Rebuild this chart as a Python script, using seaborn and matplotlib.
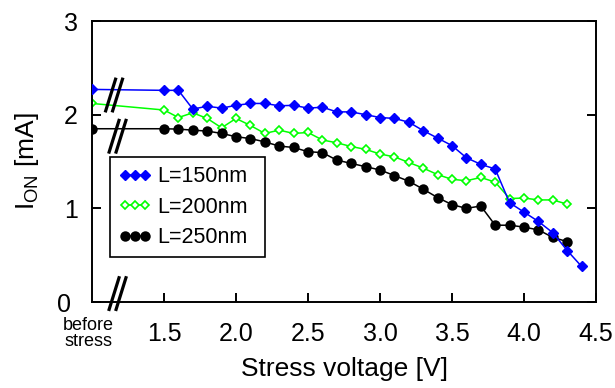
import matplotlib
matplotlib.use("Agg")
import matplotlib.pyplot as plt
import matplotlib.transforms as mtransforms
from matplotlib.lines import Line2D
import seaborn as sns
import pandas as pd

# Stress voltage [V]; 1.0 stands for the "before stress" reading
volt_150 = [1.0, 1.5, 1.6, 1.7, 1.8, 1.9, 2.0, 2.1, 2.2, 2.3, 2.4, 2.5, 2.6, 2.7, 2.8,
            2.9, 3.0, 3.1, 3.2, 3.3, 3.4, 3.5, 3.6, 3.7, 3.8, 3.9, 4.0, 4.1, 4.2, 4.3, 4.4]
volt_200 = [1.0, 1.5, 1.6, 1.7, 1.8, 1.9, 2.0, 2.1, 2.2, 2.3, 2.4, 2.5, 2.6, 2.7, 2.8,
            2.9, 3.0, 3.1, 3.2, 3.3, 3.4, 3.5, 3.6, 3.7, 3.8, 3.9, 4.0, 4.1, 4.2, 4.3]
volt_250 = [1.0, 1.5, 1.6, 1.7, 1.8, 1.9, 2.0, 2.1, 2.2, 2.3, 2.4, 2.5, 2.6, 2.7, 2.8,
            2.9, 3.0, 3.1, 3.2, 3.3, 3.4, 3.5, 3.6, 3.7, 3.8, 3.9, 4.0, 4.1, 4.2, 4.3]

# On-current I_ON [mA]
ion_150 = [2.27, 2.26, 2.26, 2.06, 2.09, 2.07, 2.10, 2.12, 2.12, 2.095, 2.10, 2.07, 2.08,
           2.03, 2.03, 2.00, 1.97, 1.96, 1.92, 1.83, 1.75, 1.67, 1.54, 1.47, 1.42, 1.06,
           0.96, 0.86, 0.74, 0.55, 0.38]
ion_200 = [2.12, 2.05, 1.97, 2.02, 1.96, 1.86, 1.96, 1.885, 1.80, 1.835, 1.80, 1.81, 1.73,
           1.70, 1.66, 1.63, 1.58, 1.55, 1.49, 1.43, 1.36, 1.31, 1.295, 1.33, 1.28, 1.105,
           1.11, 1.09, 1.09, 1.045]
ion_250 = [1.85, 1.85, 1.846, 1.835, 1.825, 1.80, 1.765, 1.745, 1.71, 1.665, 1.65, 1.605,
           1.595, 1.515, 1.48, 1.445, 1.41, 1.35, 1.29, 1.205, 1.115, 1.04, 1.0, 1.025,
           0.82, 0.82, 0.80, 0.77, 0.69, 0.645]

labels = ["L=150nm", "L=200nm", "L=250nm"]
x_ticks = [1.5, 2.0, 2.5, 3.0, 3.5, 4.0, 4.5]
x_tick_labels = ["1.5", "2.0", "2.5", "3.0", "3.5", "4.0", "4.5"]
y_ticks = [0, 1, 2, 3]
y_tick_labels = ["0", "1", "2", "3"]

sns.set_style("ticks")
plt.rcParams["font.family"] = ["Liberation Sans", "DejaVu Sans"]
plt.rcParams["mathtext.fontset"] = "custom"
plt.rcParams["mathtext.rm"] = "Liberation Sans"
plt.rcParams["text.color"] = "black"
plt.rcParams["axes.labelcolor"] = "black"
plt.rcParams["xtick.color"] = "black"
plt.rcParams["ytick.color"] = "black"

fig = plt.figure(figsize=(6.15, 3.88), dpi=100)
ax = fig.add_axes([0.1496, 0.2216, 0.8195, 0.7242])

df150 = pd.DataFrame({"V": volt_150, "I": ion_150})
df200 = pd.DataFrame({"V": volt_200, "I": ion_200})
df250 = pd.DataFrame({"V": volt_250, "I": ion_250})

sns.lineplot(data=df150, x="V", y="I", ax=ax, color="#0000FF", lw=1.1, marker="D",
             markersize=4.6, markeredgewidth=1.0, markeredgecolor="#0000FF",
             markerfacecolor="#0000FF", label=labels[0], estimator=None, sort=False, zorder=3)
sns.lineplot(data=df200, x="V", y="I", ax=ax, color="#00FF00", lw=1.1, marker="D",
             markersize=4.4, markeredgewidth=1.2, markeredgecolor="#00FF00",
             markerfacecolor="white", label=labels[1], estimator=None, sort=False, zorder=2)
sns.lineplot(data=df250, x="V", y="I", ax=ax, color="black", lw=1.1, marker="o",
             markersize=7.5, markeredgewidth=0, markerfacecolor="black",
             label=labels[2], estimator=None, sort=False, zorder=2)

ax.set_xlim(1.0, 4.5)
ax.set_ylim(0, 3)
ax.set_xticks(x_ticks)
ax.set_xticklabels(x_tick_labels)
ax.set_yticks(y_ticks)
ax.set_yticklabels(y_tick_labels)

for s in ax.spines.values():
    s.set_linewidth(1.4)
    s.set_color("black")
    s.set_visible(True)

ax.tick_params(axis="both", direction="in", length=6.5, width=1.4, colors="black",
               labelcolor="black", labelsize=18)
ax.tick_params(axis="x", pad=14.5)
ax.tick_params(axis="y", pad=10, right=True)

# nudge the "0" label slightly to the left
zero_lbl = ax.get_yticklabels()[0]
zero_lbl.set_transform(zero_lbl.get_transform() +
                       mtransforms.ScaledTranslation(-5 / 72, 0, fig.dpi_scale_trans))

ax.set_xlabel("Stress voltage [V]", fontsize=19, labelpad=8, color="black")
ax.set_ylabel(r"I$_\mathregular{ON}$ [mA]", fontsize=19, labelpad=12, color="black")

ax.annotate("before\nstress", xy=(1.0, 0), xycoords=("data", "axes fraction"),
            xytext=(-2.5, -22.5), textcoords="offset points", ha="center", va="center",
            fontsize=13, linespacing=0.95, color="black")

# axis-break marks "//"
def break_mark(x, y):
    tr = mtransforms.Affine2D().scale(fig.dpi / 72) + \
        mtransforms.ScaledTranslation(x, y, ax.transData)
    for dx in (-3.5, 1.5):
        ln = Line2D([dx - 3.9, dx + 3.9], [-12.5, 12.5], transform=tr, color="black",
                    lw=2.3, solid_capstyle="butt", clip_on=False, zorder=5)
        ax.add_line(ln)

break_mark(1.163, 2.21)
break_mark(1.187, 1.77)
break_mark(1.187, 0.09)

leg = ax.legend(loc="lower left", bbox_to_anchor=(0.036, 0.16, 0.3075, 0.356),
                mode="expand", fontsize=15.5,
                frameon=True, fancybox=False, framealpha=1, edgecolor="black",
                numpoints=3, handlelength=1.5, handletextpad=0.3, labelspacing=0.45,
                borderpad=0.4, borderaxespad=0)
leg.get_frame().set_linewidth(1.2)
for t in leg.get_texts():
    t.set_color("black")

fig.savefig("out.png", dpi=100)
